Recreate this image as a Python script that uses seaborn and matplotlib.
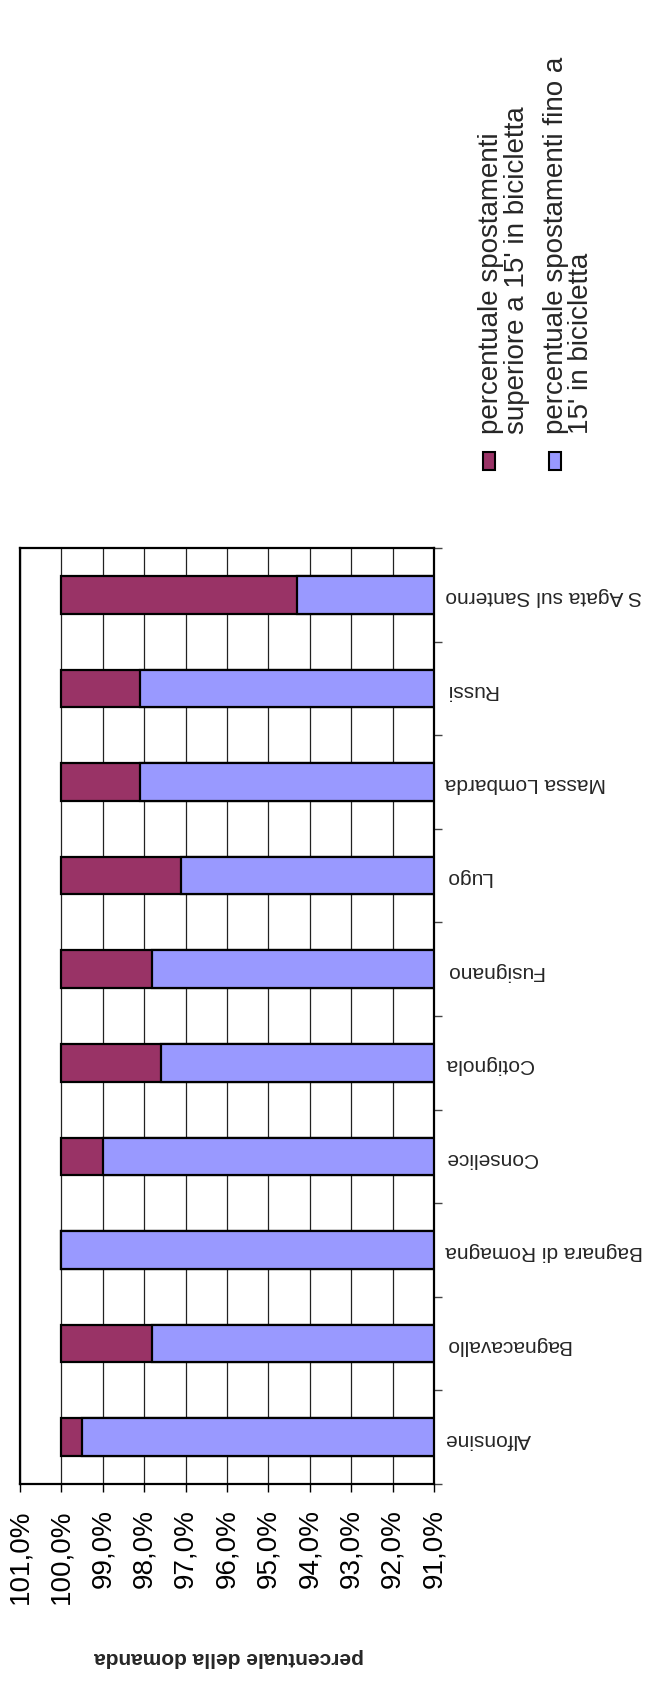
import numpy as np
import matplotlib
matplotlib.use('Agg')
import matplotlib.pyplot as plt
import seaborn as sns
from matplotlib.patches import Rectangle

# Dati (percentuali)
comuni = ['Alfonsine', 'Bagnacavallo', 'Bagnara di Romagna', 'Conselice', 'Cotignola',
          'Fusignano', 'Lugo', 'Massa Lombarda', 'Russi', 'S Agata sul Santerno']
fino_15 = [99.5, 97.8, 100.0, 99.0, 97.6, 97.8, 97.1, 98.1, 98.1, 94.3]
oltre_15 = [0.5, 2.2, 0.0, 1.0, 2.4, 2.2, 2.9, 1.9, 1.9, 5.7]
tick_vals = list(range(91, 102))

lab_oltre = ["percentuale spostamenti", "superiore a 15' in bicicletta"]
lab_fino = ["percentuale spostamenti fino a", "15' in bicicletta"]
col_oltre = '#993366'
col_fino = '#9999FF'

W, H = 651, 1686

sns.set_style('white')
plt.rcParams['font.family'] = ['Liberation Sans', 'DejaVu Sans']

fig = plt.figure(figsize=(W / 100, H / 100), dpi=100)
ax = fig.add_axes([20 / W, 1 - 1484 / H, 414 / W, 936 / H])

totale = [a + b for a, b in zip(fino_15, oltre_15)]

# barre impilate: il totale (viola) sotto, la quota fino a 15' (blu) sopra
sns.barplot(x=totale, y=comuni, orient='h', color=col_oltre, saturation=1, width=0.4,
            edgecolor='black', linewidth=1.6, ax=ax)
sns.barplot(x=fino_15, y=comuni, orient='h', color=col_fino, saturation=1, width=0.4,
            edgecolor='black', linewidth=1.6, ax=ax)

ax.set_xlim(101, 91)
ax.set_ylim(-0.5, len(comuni) - 0.5)
ax.set_xlabel('')
ax.set_ylabel('')

# griglia verticale
ax.set_axisbelow(True)
ax.grid(axis='x', color='#222222', linewidth=0.9)
ax.grid(axis='y', visible=False)

for s in ax.spines.values():
    s.set_color('black')
    s.set_linewidth(1.6)

# asse dei valori
ax.set_xticks(tick_vals)
ax.set_xticklabels([f'{v:.1f}%'.replace('.', ',') for v in tick_vals], rotation=90, fontsize=20)
ax.tick_params(axis='x', length=6, width=1, direction='out', pad=12, bottom=True, colors='black')

# asse delle categorie a destra
ax.set_yticks(np.arange(-0.5, len(comuni)), labels=[''] * (len(comuni) + 1))
ax.set_yticks(np.arange(len(comuni)), labels=comuni, minor=True)
ax.tick_params(axis='y', which='both', left=False, labelleft=False, right=True, labelright=True)
ax.tick_params(axis='y', which='major', length=6, width=1, direction='out', colors='#444444')
ax.tick_params(axis='y', which='minor', length=0, pad=8, labelsize=15, labelrotation=180)

# titolo asse
fig.text(229 / W, 1 - 1658 / H, 'percentuale della domanda', rotation=180,
         ha='center', va='center', fontweight='bold', fontsize=15)

# legenda (testo ruotato)
for xc, col in [(489, col_oltre), (555, col_fino)]:
    fig.patches.append(Rectangle(((xc - 6) / W, 1 - 470 / H), 12 / W, 18 / H,
                                 facecolor=col, edgecolor='black', linewidth=1.5,
                                 transform=fig.transFigure, figure=fig))
for xc, txt in zip([491, 517, 556, 581], lab_oltre + lab_fino):
    fig.text(xc / W, 1 - 434 / H, txt, rotation=90, rotation_mode='anchor',
             ha='left', va='center', fontsize=20)

fig.savefig('out.png', dpi=100)
